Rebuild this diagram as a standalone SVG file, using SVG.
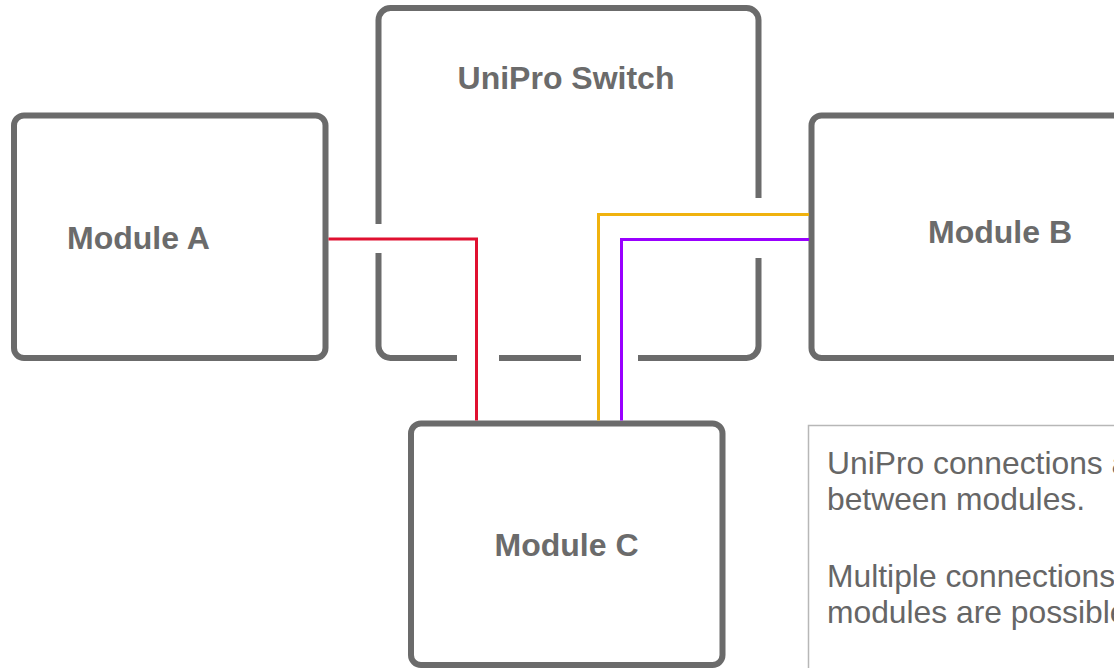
<svg xmlns="http://www.w3.org/2000/svg" width="1114" height="668" viewBox="0 0 1114 668">
  <style>
    .box { fill: #ffffff; stroke: #6b6b6b; stroke-width: 6; }
    .sw { fill: none; stroke: #6b6b6b; stroke-width: 6; stroke-linecap: butt; }
    .title { font-family: "Liberation Sans", Arial, sans-serif; font-weight: bold; font-size: 32px; fill: #6b6b6b; }
    .note { font-family: "Liberation Sans", Arial, sans-serif; font-size: 31.8px; fill: #666666; }
    .conn { fill: none; stroke-width: 3; stroke-linejoin: miter; }
  </style>
  <rect width="1114" height="668" fill="#ffffff"/>
  <g id="switch">
    <path class="sw" d="M378.5,224 V20 A12,12 0 0 1 390.5,8 H746.5 A12,12 0 0 1 758.5,20 V198"/>
    <path class="sw" d="M758.5,258 V346 A12,12 0 0 1 746.5,358 H638"/>
    <path class="sw" d="M581,358 H499"/>
    <path class="sw" d="M457,358 H390.5 A12,12 0 0 1 378.5,346 V253"/>
    <text class="title" x="566" y="89" text-anchor="middle">UniPro Switch</text>
  </g>
  <g id="moduleA">
    <rect class="box" x="14" y="115.5" width="311.5" height="242.5" rx="10"/>
    <text class="title" x="67" y="249">Module A</text>
  </g>
  <g id="moduleB">
    <rect class="box" x="811.5" y="115.5" width="340" height="242.5" rx="10"/>
    <text class="title" x="928" y="243">Module B</text>
  </g>
  <g id="moduleC">
    <rect class="box" x="411" y="423.5" width="311.5" height="241.5" rx="10"/>
    <text class="title" x="566.5" y="556" text-anchor="middle">Module C</text>
  </g>
  <g id="note">
    <rect x="808.5" y="425.5" width="320" height="260" fill="#ffffff" stroke="#b7b7b7" stroke-width="1.5"/>
    <text class="note" x="827" y="474">UniPro connections a</text>
    <text class="note" x="827" y="510">between modules.</text>
    <text class="note" x="827" y="587">Multiple connections</text>
    <text class="note" x="827" y="623">modules are possible</text>
  </g>
  <g id="connectors">
    <path class="conn" stroke="#e01030" d="M328.5,239 H476.5 V420.5"/>
    <path class="conn" stroke="#f0b20f" d="M809,214.5 H598.5 V420.5"/>
    <path class="conn" stroke="#9900ff" d="M809,239.5 H621.5 V420.5"/>
  </g>
</svg>
